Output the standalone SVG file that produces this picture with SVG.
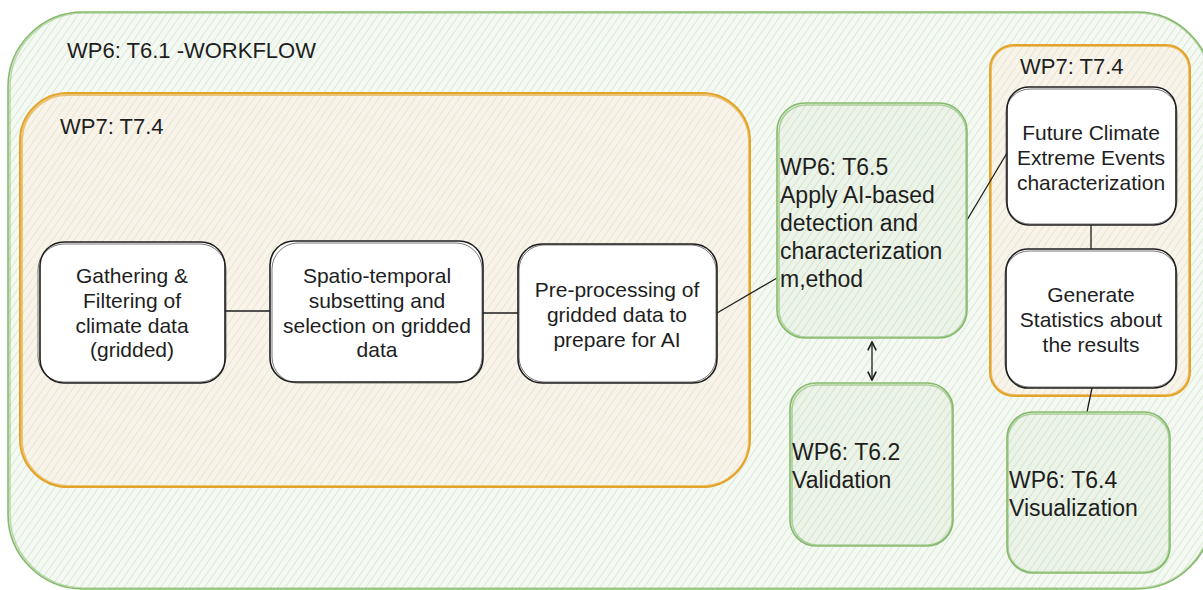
<svg xmlns="http://www.w3.org/2000/svg" width="1203" height="590" viewBox="0 0 1203 590">
<defs>
<pattern id="hGreen" patternUnits="userSpaceOnUse" width="6" height="6" patternTransform="rotate(35)">
<rect width="6" height="6" fill="#f5f9f3"/>
<line x1="0" y1="0" x2="0" y2="6" stroke="#c4d9ba" stroke-width="1"/>
</pattern>
<pattern id="hOrange" patternUnits="userSpaceOnUse" width="6" height="6" patternTransform="rotate(35)">
<rect width="6" height="6" fill="#f8f4ea"/>
<line x1="0" y1="0" x2="0" y2="6" stroke="#ded6bf" stroke-width="1"/>
</pattern>
<pattern id="hNode" patternUnits="userSpaceOnUse" width="6" height="6" patternTransform="rotate(35)">
<rect width="6" height="6" fill="#ecf3e8"/>
<line x1="0" y1="0" x2="0" y2="6" stroke="#bfd7b2" stroke-width="1"/>
</pattern>
<marker id="arr" viewBox="0 0 10 10" refX="9" refY="5" markerWidth="8" markerHeight="8" orient="auto-start-reverse">
<path d="M1,1 L9,5 L1,9" fill="none" stroke="#1e1e1e" stroke-width="1.6"/>
</marker>
</defs>
<style>
.t{font-family:"Liberation Sans",Arial,sans-serif;fill:#1e1e1e;font-size:21px}
.c{text-anchor:middle}
.big{font-size:23px}
.ttl{font-size:22px}
.g{fill:none;stroke:#86ba6c;stroke-width:1.6}
.o{fill:none;stroke:#e2a52a;stroke-width:2}
.n{fill:#ffffff;stroke:#1e1e1e;stroke-width:1.6}
.n2{fill:none;stroke:#1e1e1e;stroke-width:1;opacity:0.6}
.ln{fill:none;stroke:#1e1e1e;stroke-width:1.3}
</style>
<rect width="1203" height="590" fill="#ffffff"/>

<g id="outer">
<rect x="8" y="12" width="1204" height="577" rx="75" fill="url(#hGreen)"/>
<rect x="8" y="12" width="1204" height="577" rx="75" class="g"/>
<rect x="10" y="13" width="1201" height="575" rx="74" class="g" opacity="0.5"/>
<text x="67" y="58" class="t ttl">WP6: T6.1 -WORKFLOW</text>
</g>

<g id="wp7-left">
<rect x="20" y="93" width="730" height="394" rx="48" fill="url(#hOrange)"/>
<rect x="20" y="93" width="730" height="394" rx="48" class="o"/>
<rect x="22" y="95" width="727" height="391" rx="46" class="o" stroke-width="1" opacity="0.6"/>
<text x="60" y="134" class="t ttl">WP7: T7.4</text>
</g>

<g id="wp7-right">
<rect x="990" y="45" width="200" height="351" rx="24" fill="url(#hOrange)"/>
<rect x="990" y="45" width="200" height="351" rx="24" class="o"/>
<rect x="991" y="46" width="198" height="349" rx="23" class="o" stroke-width="1" opacity="0.6"/>
<text x="1020" y="74" class="t ttl">WP7: T7.4</text>
</g>

<g id="connectors">
<line x1="225" y1="311" x2="270" y2="311" class="ln"/>
<line x1="483" y1="313" x2="518" y2="313" class="ln"/>
<line x1="717" y1="313" x2="777" y2="278" class="ln"/>
<line x1="967" y1="220" x2="1007" y2="153" class="ln"/>
<line x1="1091" y1="225" x2="1091" y2="250" class="ln"/>
<line x1="1092" y1="388" x2="1087" y2="412" class="ln"/>
<line x1="872" y1="342" x2="872" y2="380" class="ln" marker-start="url(#arr)" marker-end="url(#arr)"/>
</g>

<g id="gathering">
<rect x="40" y="242" width="185" height="141" rx="24" class="n"/>
<rect x="38" y="244" width="188" height="138" rx="26" class="n2"/>
<text class="t c" x="132" y="283">Gathering &amp;</text>
<text class="t c" x="132" y="308">Filtering of</text>
<text class="t c" x="132" y="333">climate data</text>
<text class="t c" x="132" y="357">(gridded)</text>
</g>

<g id="spatio">
<rect x="270" y="241" width="213" height="141" rx="24" class="n"/>
<rect x="272" y="243" width="210" height="140" rx="26" class="n2"/>
<text class="t c" x="377" y="283">Spatio-temporal</text>
<text class="t c" x="377" y="308">subsetting and</text>
<text class="t c" x="377" y="333">selection on gridded</text>
<text class="t c" x="377" y="357">data</text>
</g>

<g id="preprocessing">
<rect x="518" y="244" width="199" height="139" rx="24" class="n"/>
<rect x="519" y="245" width="197" height="137" rx="25" class="n2"/>
<text class="t c" x="617" y="297">Pre-processing of</text>
<text class="t c" x="617" y="322">gridded data to</text>
<text class="t c" x="617" y="347">prepare for AI</text>
</g>

<g id="t65">
<rect x="777" y="103" width="190" height="235" rx="28" fill="url(#hNode)"/>
<rect x="777" y="103" width="190" height="235" rx="28" class="g"/>
<rect x="779" y="105" width="187" height="232" rx="27" class="g" stroke-width="1" opacity="0.6"/>
<text class="t big" x="780" y="175">WP6: T6.5</text>
<text class="t big" x="780" y="203">Apply AI-based</text>
<text class="t big" x="780" y="231">detection and</text>
<text class="t big" x="780" y="259">characterization</text>
<text class="t big" x="780" y="287">m,ethod</text>
</g>

<g id="t62">
<rect x="790" y="383" width="163" height="163" rx="26" fill="url(#hNode)"/>
<rect x="790" y="383" width="163" height="163" rx="26" class="g"/>
<rect x="792" y="385" width="160" height="160" rx="25" class="g" stroke-width="1" opacity="0.6"/>
<text class="t big" x="792" y="460">WP6: T6.2</text>
<text class="t big" x="792" y="488">Validation</text>
</g>

<g id="future">
<rect x="1007" y="87" width="169" height="138" rx="22" class="n"/>
<rect x="1006" y="89" width="171" height="135" rx="24" class="n2"/>
<text class="t c" x="1091" y="140">Future Climate</text>
<text class="t c" x="1091" y="165">Extreme Events</text>
<text class="t c" x="1091" y="190">characterization</text>
</g>

<g id="statistics">
<rect x="1006" y="249" width="170" height="139" rx="22" class="n"/>
<rect x="1005" y="251" width="172" height="136" rx="24" class="n2"/>
<text class="t c" x="1091" y="302">Generate</text>
<text class="t c" x="1091" y="327">Statistics about</text>
<text class="t c" x="1091" y="352">the results</text>
</g>

<g id="t64">
<rect x="1007" y="412" width="163" height="161" rx="26" fill="url(#hNode)"/>
<rect x="1007" y="412" width="163" height="161" rx="26" class="g"/>
<rect x="1008" y="414" width="161" height="158" rx="25" class="g" stroke-width="1" opacity="0.6"/>
<text class="t big" x="1009" y="488">WP6: T6.4</text>
<text class="t big" x="1009" y="516">Visualization</text>
</g>
</svg>
